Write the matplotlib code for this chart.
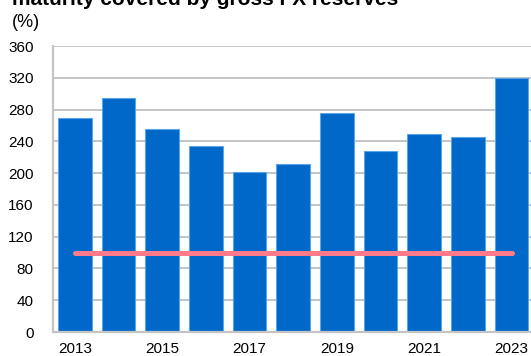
import matplotlib

matplotlib.use("Agg")
import matplotlib.pyplot as plt
import numpy as np

plt.rcParams["font.family"] = ["Liberation Sans", "DejaVu Sans"]

years = [2013, 2014, 2015, 2016, 2017, 2018, 2019, 2020, 2021, 2022, 2023]
coverage = [269, 294, 256, 234, 202, 211, 276, 228, 249, 245, 320]
threshold = [100] * len(years)
tick_years = [2013, 2015, 2017, 2019, 2021, 2023]
y_ticks = list(range(0, 361, 40))

W, H = 531, 356
fig = plt.figure(figsize=(W / 100, H / 100), dpi=100)
# axes box in pixels: left 53, bottom 332 (from top), top 46, right ~533
ax = fig.add_axes([53 / W, (H - 332) / H, (533.5 - 53) / W, (332 - 46) / H])

x = np.arange(len(years))
ax.bar(x, coverage, width=0.77, color="#0068C9", edgecolor="#5AA5E8", linewidth=0.8, zorder=2)
ax.plot(x, threshold, color="#FF7B8C", lw=3.6, solid_capstyle="round", zorder=3)

ax.set_xlim(-0.5, len(years) - 0.5)
ax.set_ylim(0, 360)
ax.set_yticks(y_ticks)
ax.set_xticks([years.index(y) for y in tick_years])
ax.set_xticklabels([str(y) for y in tick_years])
ax.tick_params(axis="both", length=0, labelsize=11, colors="#000000")
ax.tick_params(axis="x", pad=7)
ax.tick_params(axis="y", pad=14)

ax.grid(axis="y", color="#C4C4C4", lw=1.4, zorder=1)
for side in ("top", "right"):
    ax.spines[side].set_visible(False)
for side in ("left", "bottom"):
    ax.spines[side].set_color("#C4C4C4")
    ax.spines[side].set_linewidth(1.6)

# first title line lies above the visible area in the source; only this line shows
fig.text(12 / W, (H - 5) / H, "maturity covered by gross FX reserves",
         fontsize=15, fontweight="bold", va="baseline", ha="left")
fig.text(12 / W, (H - 27) / H, "(%)", fontsize=13, va="baseline", ha="left")

fig.savefig("out.png", dpi=100)
